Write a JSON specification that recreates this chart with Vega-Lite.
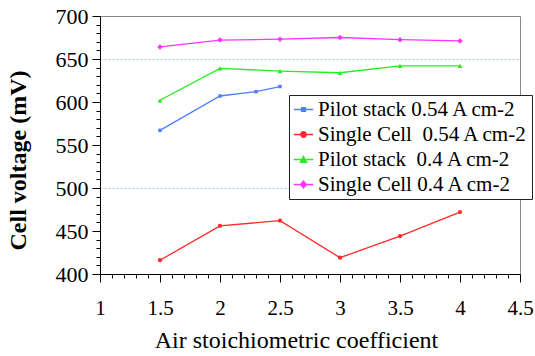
{
  "$schema": "https://vega.github.io/schema/vega-lite/v6.json",
  "width": 420,
  "height": 258,
  "autosize": {"type": "none"},
  "padding": {"left": 100, "top": 16, "right": 15, "bottom": 82},
  "background": "white",
  "config": {
    "view": {"stroke": "#888888", "strokeWidth": 1},
    "font": "Liberation Serif"
  },
  "data": {
    "values": [
      {"series": "Pilot stack 0.54 A cm-2", "x": 1.5, "v": 567},
      {"series": "Pilot stack 0.54 A cm-2", "x": 2.0, "v": 607},
      {"series": "Pilot stack 0.54 A cm-2", "x": 2.3, "v": 612},
      {"series": "Pilot stack 0.54 A cm-2", "x": 2.5, "v": 618},
      {"series": "Single Cell\u00a0 0.54 A cm-2", "x": 1.5, "v": 416},
      {"series": "Single Cell\u00a0 0.54 A cm-2", "x": 2.0, "v": 456},
      {"series": "Single Cell\u00a0 0.54 A cm-2", "x": 2.5, "v": 462},
      {"series": "Single Cell\u00a0 0.54 A cm-2", "x": 3.0, "v": 419},
      {"series": "Single Cell\u00a0 0.54 A cm-2", "x": 3.5, "v": 444},
      {"series": "Single Cell\u00a0 0.54 A cm-2", "x": 4.0, "v": 472},
      {"series": "Pilot stack\u00a0 0.4 A cm-2", "x": 1.5, "v": 602},
      {"series": "Pilot stack\u00a0 0.4 A cm-2", "x": 2.0, "v": 639},
      {"series": "Pilot stack\u00a0 0.4 A cm-2", "x": 2.5, "v": 636},
      {"series": "Pilot stack\u00a0 0.4 A cm-2", "x": 3.0, "v": 634},
      {"series": "Pilot stack\u00a0 0.4 A cm-2", "x": 3.5, "v": 642},
      {"series": "Pilot stack\u00a0 0.4 A cm-2", "x": 4.0, "v": 642},
      {"series": "Single Cell 0.4 A cm-2", "x": 1.5, "v": 664},
      {"series": "Single Cell 0.4 A cm-2", "x": 2.0, "v": 672},
      {"series": "Single Cell 0.4 A cm-2", "x": 2.5, "v": 673},
      {"series": "Single Cell 0.4 A cm-2", "x": 3.0, "v": 675},
      {"series": "Single Cell 0.4 A cm-2", "x": 3.5, "v": 672.5},
      {"series": "Single Cell 0.4 A cm-2", "x": 4.0, "v": 671}
    ]
  },
  "resolve": {"scale": {"color": "independent", "shape": "independent", "size": "independent", "stroke": "independent"}},
  "encoding": {
    "x": {
      "field": "x", "type": "quantitative",
      "scale": {"domain": [1, 4.5], "nice": false, "zero": false},
      "axis": {
        "title": "Air stoichiometric coefficient",
        "titleFont": "Liberation Serif", "titleFontSize": 24, "titleFontWeight": "normal", "titleColor": "black",
        "titleX": 196, "titleY": 73, "titleAlign": "center", "titleBaseline": "alphabetic",
        "values": [1,1.1,1.2,1.3,1.4,1.5,1.6,1.7,1.8,1.9,2,2.1,2.2,2.3,2.4,2.5,2.6,2.7,2.8,2.9,3,3.1,3.2,3.3,3.4,3.5,3.6,3.7,3.8,3.9,4,4.1,4.2,4.3,4.4,4.5],
        "labelExpr": "abs(datum.value*2 - round(datum.value*2)) < 0.000001 ? format(datum.value, '~g') : ''",
        "labelFont": "Liberation Serif", "labelFontSize": 21, "labelColor": "black", "labelPadding": 15, "labelFlush": false,
        "domainColor": "black", "tickColor": "black",
        "tickSize": {"condition": {"test": "abs(datum.value*2 - round(datum.value*2)) < 0.000001", "value": 8}, "value": 4},
        "grid": false
      }
    },
    "y": {
      "field": "v", "type": "quantitative",
      "scale": {"domain": [400, 700], "nice": false, "zero": false},
      "axis": {
        "title": "Cell voltage  (mV)",
        "titleFont": "Liberation Serif", "titleFontSize": 24, "titleFontWeight": "bold", "titleColor": "black",
        "titleX": -75, "titleY": 144, "titleAngle": -90, "titleAlign": "center", "titleBaseline": "alphabetic",
        "values": [400,410,420,430,440,450,460,470,480,490,500,510,520,530,540,550,560,570,580,590,600,610,620,630,640,650,660,670,680,690,700],
        "labelExpr": "datum.value % 50 === 0 ? datum.label : ''",
        "labelFont": "Liberation Serif", "labelFontSize": 22, "labelColor": "black", "labelPadding": 4,
        "domainColor": "black", "tickColor": "black",
        "tickSize": {"condition": {"test": "datum.value % 50 === 0", "value": 8}, "value": 4},
        "grid": true,
        "gridColor": "#8fd3f0",
        "gridDash": [2, 2],
        "gridOpacity": {"condition": {"test": "datum.value === 500 || datum.value === 650", "value": 1}, "value": 0}
      }
    }
  },
  "layer": [
    {
      "mark": {"type": "line", "strokeWidth": 1.3},
      "encoding": {
        "color": {
          "field": "series", "type": "nominal", "legend": null,
          "scale": {
            "domain": ["Pilot stack 0.54 A cm-2", "Single Cell\u00a0 0.54 A cm-2", "Pilot stack\u00a0 0.4 A cm-2", "Single Cell 0.4 A cm-2"],
            "range": ["#4f7fff", "#ff2a2a", "#22ee22", "#ff33ff"]
          }
        }
      }
    },
    {
      "mark": {"type": "point", "filled": true, "opacity": 1},
      "encoding": {
        "color": {
          "field": "series", "type": "nominal", "legend": null,
          "scale": {
            "domain": ["Pilot stack 0.54 A cm-2", "Single Cell\u00a0 0.54 A cm-2", "Pilot stack\u00a0 0.4 A cm-2", "Single Cell 0.4 A cm-2"],
            "range": ["#4f7fff", "#ff2a2a", "#22ee22", "#ff33ff"]
          }
        },
        "shape": {
          "field": "series", "type": "nominal", "legend": null,
          "scale": {
            "domain": ["Pilot stack 0.54 A cm-2", "Single Cell\u00a0 0.54 A cm-2", "Pilot stack\u00a0 0.4 A cm-2", "Single Cell 0.4 A cm-2"],
            "range": ["square", "circle", "triangle-up", "diamond"]
          }
        },
        "size": {
          "field": "series", "type": "nominal", "legend": null,
          "scale": {
            "domain": ["Pilot stack 0.54 A cm-2", "Single Cell\u00a0 0.54 A cm-2", "Pilot stack\u00a0 0.4 A cm-2", "Single Cell 0.4 A cm-2"],
            "range": [12, 30, 40, 40]
          }
        }
      }
    },
    {
      "transform": [{"filter": "datum.x > 100"}],
      "mark": {"type": "point", "filled": true, "opacity": 1, "strokeWidth": 1.3, "size": 380},
      "encoding": {
        "color": {
          "field": "series", "type": "nominal", "title": null,
          "scale": {
            "domain": ["Pilot stack 0.54 A cm-2", "Single Cell\u00a0 0.54 A cm-2", "Pilot stack\u00a0 0.4 A cm-2", "Single Cell 0.4 A cm-2"],
            "range": ["#4f7fff", "#ff2a2a", "#22ee22", "#ff33ff"]
          },
          "legend": {
            "orient": "none", "legendX": 189, "legendY": 79,
            "fillColor": "white", "strokeColor": "#222222", "padding": 4,
            "labelFont": "Liberation Serif", "labelFontSize": 21, "labelColor": "black", "labelLimit": 400,
            "symbolSize": 380, "symbolStrokeWidth": 1.3, "rowPadding": 3, "labelOffset": 4
          }
        },
        "stroke": {
          "field": "series", "type": "nominal", "title": null,
          "scale": {
            "domain": ["Pilot stack 0.54 A cm-2", "Single Cell\u00a0 0.54 A cm-2", "Pilot stack\u00a0 0.4 A cm-2", "Single Cell 0.4 A cm-2"],
            "range": ["#4f7fff", "#ff2a2a", "#22ee22", "#ff33ff"]
          }
        },
        "shape": {
          "field": "series", "type": "nominal", "title": null,
          "scale": {
            "domain": ["Pilot stack 0.54 A cm-2", "Single Cell\u00a0 0.54 A cm-2", "Pilot stack\u00a0 0.4 A cm-2", "Single Cell 0.4 A cm-2"],
            "range": [
              "M-1,0H1M-0.2,-0.2H0.2V0.2H-0.2Z",
              "M-1,0H1M-0.28,0A0.28,0.28,0,1,1,0.28,0A0.28,0.28,0,1,1,-0.28,0Z",
              "M-1,0H1M-0.32,0.28L0,-0.32L0.32,0.28Z",
              "M-1,0H1M0,-0.35L0.3,0L0,0.35L-0.3,0Z"
            ]
          }
        }
      }
    }
  ]
}
